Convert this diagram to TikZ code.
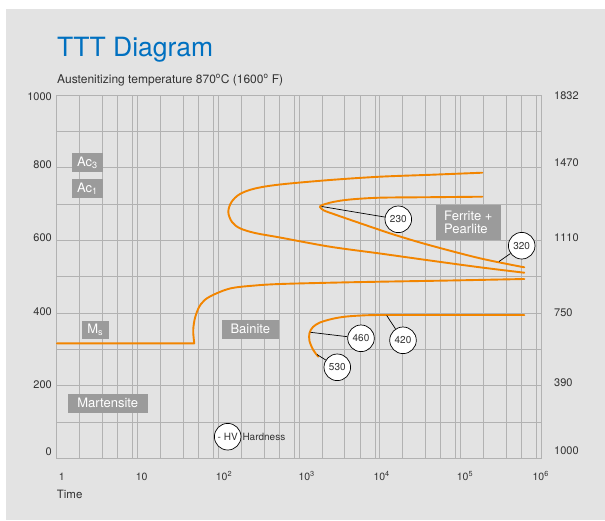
\documentclass[tikz,border=0pt]{standalone}
\usepackage{fontspec}
\setmainfont{TeX Gyre Heros}
\definecolor{panel}{RGB}{227,227,227}
\definecolor{gridgray}{RGB}{178,178,178}
\definecolor{curveorange}{RGB}{242,133,0}
\definecolor{boxgray}{RGB}{155,155,155}
\definecolor{titleblue}{RGB}{0,112,192}
\definecolor{textgray}{RGB}{50,50,50}
\begin{document}
\begin{tikzpicture}[x=1pt,y=-1pt,
  gridline/.style={draw=gridgray, line width=1.6pt},
  curve/.style={draw=curveorange, line width=1.9pt, line cap=round, line join=round},
  phase/.style={fill=boxgray, text=white, inner sep=0pt, font=\fontsize{13}{13.5}\selectfont},
  hvcircle/.style={circle, draw=black, fill=white, line width=0.7pt, minimum size=26.6pt,
    inner sep=0pt, font=\fontsize{10}{12}\selectfont, text=textgray},
  leader/.style={draw=black, line width=0.7pt},
  ylab/.style={font=\fontsize{11}{13}\selectfont, text=textgray, inner sep=0pt},
  xlab/.style={font=\fontsize{10.5}{12}\selectfont, text=textgray, inner sep=0pt, anchor=base}]

\useasboundingbox (0,0) rectangle (605,520);
\fill[white] (0,0) rectangle (605,520);
\fill[panel] (5.5,8.5) rectangle (605,520);

% title and subtitle
\node[anchor=base west, inner sep=0pt, text=titleblue, font=\fontsize{26.5}{30}\selectfont] (title) at (57,56) {TTT Diagram};
\node[anchor=base west, inner sep=0pt, text=textgray, font=\fontsize{12}{14}\selectfont] (subtitle) at (57,83)
  {Austenitizing temperature 870\textsuperscript{o}C (1600\textsuperscript{o} F)};

% grid: decade lines and their sub-divisions
\foreach \gx in {79.5,102.5,117.5,132.5, 137.5,160.5,183.5,198.5,213.5, 218.5,241.5,264.5,279.5,294.5,
  299.5,322.5,344.5,360.5,375.5, 379.5,402.5,425.5,440.5,455.5, 460.5,483.5,506.5,521.5,536.5}
  \draw[gridline] (\gx,95.5) -- (\gx,458.5);
\foreach \gy in {131.5,167.5,204.5,240.5,276.5,313.5,349.5,385.5,422.5}
  \draw[gridline] (56.5,\gy) -- (541.5,\gy);
\draw[gridline] (56.5,95.5) rectangle (541.5,458.5);

% temperature scale (C, left) and (F, right)
\node[ylab, anchor=east] (l1000) at (52,97) {1000};
\node[ylab, anchor=east] (l800) at (52,165) {800};
\node[ylab, anchor=east] (l600) at (52,238) {600};
\node[ylab, anchor=east] (l400) at (52,312) {400};
\node[ylab, anchor=east] (l200) at (52,384.5) {200};
\node[ylab, anchor=east] (l0) at (52,452) {0};
\node[ylab, anchor=west] (r1832) at (554,96) {1832};
\node[ylab, anchor=west] (r1470) at (554,162.5) {1470};
\node[ylab, anchor=west] (r1110) at (554,238) {1110};
\node[ylab, anchor=west] (r750) at (554,313) {750};
\node[ylab, anchor=west] (r390) at (554,383) {390};
\node[ylab, anchor=west] (r1000) at (554,451) {1000};

% time scale
\node[xlab] (t0) at (61.7,480) {1};
\node[xlab] (t1) at (141.7,480) {10};
\node[xlab] (t2) at (224,480) {10\textsuperscript{2}};
\node[xlab] (t3) at (306.7,480) {10\textsuperscript{3}};
\node[xlab] (t4) at (381.7,480) {10\textsuperscript{4}};
\node[xlab] (t5) at (465,480) {10\textsuperscript{5}};
\node[xlab] (t6) at (540.7,480) {10\textsuperscript{6}};
\node[anchor=base west, inner sep=0pt, text=textgray, font=\fontsize{11.5}{13}\selectfont] (time) at (56.7,498.3) {Time};

% transformation curves
\draw[curve] plot[smooth, tension=0.55] coordinates {(482.3,172.7) (430,174.8) (380,176.7) (330,180)
  (280,184.5) (255,188.5) (240,194) (231.5,202) (228.3,212) (232,222) (240,228.3) (255,233)
  (280,237.5) (330,246.7) (380,253.5) (430,260.5) (480,267.3) (524.3,272.7)};
\draw[curve] plot[smooth, tension=0.55] coordinates {(482.3,196.7) (430,197.2) (380,197.7) (350,199.5)
  (333,202) (322.5,205) (320,207) (324,210.5) (335,214.5) (346.7,218.6) (380,230) (400,236.5)
  (430,245.3) (480,258.3) (524.3,267.3)};
\draw[curve] (57,343.3) -- (194.3,343.3) -- plot[smooth, tension=0.55] coordinates {(194.3,343.3)
  (193.2,330) (195.5,316) (201,304) (210,296.5) (230,288.5) (255,285.5) (280,284) (330,282.7)
  (380,281.7) (450,280.5) (524.3,279)};
\draw[curve] plot[smooth, tension=0.55] coordinates {(318.3,356.7) (313.3,350) (309.5,341) (309.5,333)
  (313,327) (320,322.5) (333,318.7) (346.7,316.5) (365,315.3) (380,315)} -- (524.3,315);

% phase labels
\node[phase, minimum width=30.7pt, minimum height=18.7pt] (ac3) at (87.3,162.7) {Ac\textsubscript{3}};
\node[phase, minimum width=30.7pt, minimum height=18.4pt] (ac1) at (87.3,188.5) {Ac\textsubscript{1}};
\node[phase, minimum width=26.7pt, minimum height=18.3pt] (ms) at (95.3,330.2) {M\textsubscript{s}};
\node[phase, minimum width=56.7pt, minimum height=18.7pt] (bainite) at (250.3,329.3) {Bainite};
\node[phase, minimum width=64.7pt, minimum height=35pt, align=left] (fp) at (468.3,222.5) {Ferrite +\\Pearlite};
\node[phase, minimum width=80pt, minimum height=18.7pt] (mart) at (107.7,403.3) {Martensite};

% hardness call-outs
\coordinate (p230) at (321.7,206.5);
\coordinate (p320) at (499,261.5);
\coordinate (p460) at (310.5,332.3);
\coordinate (p420) at (386.7,315.5);
\coordinate (p530) at (317,354.5);
\node[hvcircle] (c230) at (398.3,219.3) {230};
\node[hvcircle] (c320) at (521.7,245.7) {320};
\node[hvcircle] (c460) at (361,338.3) {460};
\node[hvcircle] (c420) at (403,340.3) {420};
\node[hvcircle] (c530) at (337.3,367.3) {530};
\draw[leader] (p230) -- (c230);
\draw[leader] (p320) -- (c320);
\draw[leader] (p460) -- (c460);
\draw[leader] (p420) -- (c420);
\draw[leader] (p530) -- (c530);

% legend
\node[hvcircle] (hv) at (227.7,436.7) {- HV};
\node[anchor=west, inner sep=0pt, text=textgray, font=\fontsize{10}{12}\selectfont] (hardness) at (242.3,436.7) {Hardness};
\end{tikzpicture}
\end{document}
